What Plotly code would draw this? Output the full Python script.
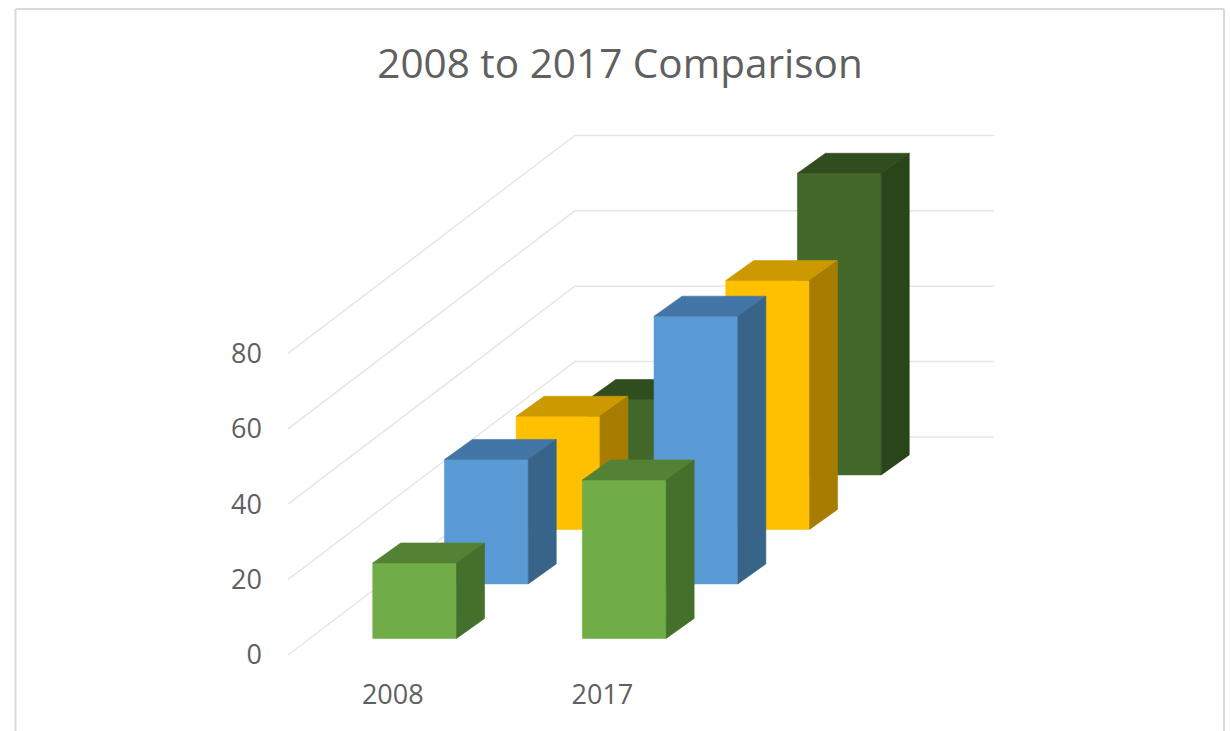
import plotly.graph_objects as go

# --- data ---
categories = ["2008", "2017"]
series_names = ["Series 1", "Series 2", "Series 3", "Series 4"]   # front to back
series_1 = [20, 42]
series_2 = [33, 71]
series_3 = [30, 66]
series_4 = [20, 80]
value_ticks = [0, 20, 40, 60, 80]
title_text = "2008 to 2017 Comparison"

# --- styles: front, top, side for each series ---
colors = [
    ("#70ad47", "#548235", "#44702b"),
    ("#5b9bd5", "#4376a6", "#386489"),
    ("#ffc000", "#cc9a00", "#a67d00"),
    ("#43682b", "#304d1f", "#29451a"),
]
grid_color = "#e6e6e6"
text_color = "#606060"
FONT = "Open Sans"

# --- oblique projection of the chart's 3D space ---
W, H = 1230, 731
PX_X = 209.6        # px per category
PX_Y = 3.77         # px per value unit
ORIGIN_X, ORIGIN_Y = 288.0, 655.0
ROW_DX = 71.7 / PX_X   # shear of one series row, in category units
ROW_DY = 54.5 / PX_Y   # shear of one series row, in value units
N_ROWS = len(series_names)
BAR_W = 0.4            # share of category
BAR_D = 0.39           # share of row, horizontal shear
BAR_D_Y = 0.367        # share of row, vertical shear


def proj(cat, val, depth, depth_y=None):
    """cat: category position, val: value, depth: rows from the front."""
    return cat + depth * ROW_DX, val + (depth if depth_y is None else depth_y) * ROW_DY


def poly(points, color, name):
    xs, ys = zip(*points)
    return go.Scatter(x=list(xs) + [xs[0]], y=list(ys) + [ys[0]], mode="lines", fill="toself",
                      fillcolor=color, line=dict(width=0.6, color=color), name=name,
                      showlegend=False, hoverinfo="name")


fig = go.Figure()

# walls' gridlines
n_cat = len(categories)
for v in value_ticks:
    a = proj(0, v, 0)
    b = proj(0, v, N_ROWS)
    c = proj(n_cat, v, N_ROWS)
    fig.add_trace(go.Scatter(x=[a[0], b[0], c[0]], y=[a[1], b[1], c[1]], mode="lines",
                             line=dict(color=grid_color, width=1.5), showlegend=False,
                             hoverinfo="skip"))

# bars, back row first
all_series = [series_1, series_2, series_3, series_4]
for row in reversed(range(N_ROWS)):
    front_c, top_c, side_c = colors[row]
    d0 = row + (1 - BAR_D) / 2
    d1 = d0 + BAR_D
    d1y = d0 + BAR_D_Y
    for i, val in enumerate(all_series[row]):
        x0 = i + (1 - BAR_W) / 2
        x1 = x0 + BAR_W
        name = f"{series_names[row]} {categories[i]}: {val}"
        fig.add_trace(poly([proj(x0, 0, d0), proj(x1, 0, d0), proj(x1, val, d0), proj(x0, val, d0)], front_c, name))
        fig.add_trace(poly([proj(x0, val, d0), proj(x1, val, d0), proj(x1, val, d1, d1y), proj(x0, val, d1, d1y)], top_c, name))
        fig.add_trace(poly([proj(x1, 0, d0), proj(x1, 0, d1, d1y), proj(x1, val, d1, d1y), proj(x1, val, d0)], side_c, name))

fig.update_layout(
    width=W, height=H, autosize=False,
    margin=dict(l=0, r=0, t=0, b=0),
    paper_bgcolor="white", plot_bgcolor="white",
    font=dict(family=FONT, color=text_color),
    title=dict(text=title_text, x=620 / W, xanchor="center", y=1 - 64 / H, yanchor="middle",
               font=dict(size=40.5, family=FONT, color=text_color)),
    xaxis=dict(range=[-ORIGIN_X / PX_X, (W - ORIGIN_X) / PX_X], tickmode="array",
               tickvals=[i + 0.5 for i in range(n_cat)], ticktext=categories,
               showgrid=False, zeroline=False, showline=False, ticks="", anchor="free",
               position=1 - 676 / H, tickfont=dict(size=27, family=FONT, color=text_color)),
    yaxis=dict(range=[-(H - ORIGIN_Y) / PX_Y, ORIGIN_Y / PX_Y], tickmode="array",
               tickvals=value_ticks, showgrid=False, zeroline=False, showline=False, ticks="",
               anchor="free", position=262 / W,
               tickfont=dict(size=27, family=FONT, color=text_color)),
    shapes=[
        dict(type="line", xref="paper", yref="paper", x0=15.5 / W, x1=15.5 / W, y0=-0.02, y1=1 - 9 / H,
             line=dict(color="#d9d9d9", width=2)),
        dict(type="line", xref="paper", yref="paper", x0=15.5 / W, x1=1224 / W, y0=1 - 9 / H, y1=1 - 9 / H,
             line=dict(color="#d9d9d9", width=2)),
        dict(type="line", xref="paper", yref="paper", x0=1224 / W, x1=1224 / W, y0=-0.02, y1=1 - 9 / H,
             line=dict(color="#d9d9d9", width=2)),
    ],
)

fig.write_html("out.html", config={"displayModeBar": False},
               post_script="document.body.style.margin='0';document.body.style.overflow='hidden';")
